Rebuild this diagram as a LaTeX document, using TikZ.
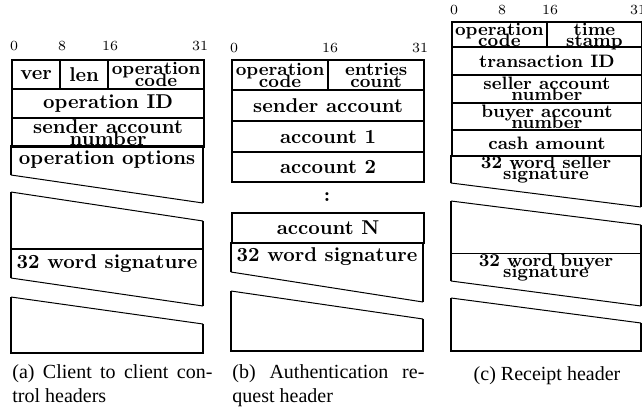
\documentclass[tikz,border=0pt]{standalone}
\usepackage{fontspec}
\newfontfamily\capfont{Liberation Serif}

% two centred lines set very close together, depth dropped
\newcommand{\stackfield}[3][5.8pt]{\raisebox{0pt}[\height][0pt]{\vbox{\baselineskip=#1\lineskiplimit=-20pt\lineskip=0pt
    \halign{\hfil##\hfil\cr#2\cr#3\cr}}}}

\tikzset{
  field/.style={draw, line width=1.1pt, inner sep=0pt, anchor=north west, font=\bfseries},
  cfield/.style={field, line width=0.9pt, font=\small\bfseries},
  edge/.style={line width=1.1pt},
  cedge/.style={line width=0.9pt},
  brk/.style={line width=0.5pt},
  bitnum/.style={font=\scriptsize, inner sep=0pt},
  capt/.style={anchor=north west, inner sep=0pt, align=left, font=\capfont},
}

\begin{document}
\begin{tikzpicture}[x=0.5pt, y=-0.5pt]
    \useasboundingbox (0,0) rectangle (642,414);

    % (a) client to client
    \foreach \b/\x in {0/14,8/62,16/110,31/200}
        \node[bitnum] (a\b) at (\x,46) {\b};
    \node[field, minimum width=24pt, minimum height=14.5pt] (ver) at (11,59) {ver};
    \node[field, minimum width=24pt, minimum height=14.5pt] (len) at (59,59) {len};
    \node[field, font=\small\bfseries, minimum width=48pt, minimum height=14.5pt] (opcodeA) at (107,59) {\stackfield[6pt]{operation}{code}};
    \node[field, minimum width=96pt, minimum height=14.5pt] (opid) at (11,88) {operation ID};
    \node[field, minimum width=96pt, minimum height=14.5pt] (senderA) at (11,117) {\stackfield{sender account}{number}};
    \node[font=\bfseries] (options) at (107,160) {operation options};
    \draw[edge] (11,175) -- (11,146) -- (203,146) -- (203,203);
    \draw[brk] (11,175) -- (203,203);
    \draw[brk] (11,192) -- (203,221);
    \draw[edge] (11,192) -- (11,278);
    \draw[edge] (203,221) -- (203,306);
    \draw[edge] (11,249) -- (203,249);
    \node[font=\bfseries] (sigA) at (107,264) {32 word signature};
    \draw[brk] (11,278) -- (203,306);
    \draw[brk] (11,297) -- (203,324);
    \draw[edge] (11,297) -- (11,353) -- (203,353) -- (203,324);

    % (b) authentication request
    \foreach \b/\x in {0/234,16/330,31/420}
        \node[bitnum] (b\b) at (\x,48) {\b};
    \node[field, font=\small\bfseries, minimum width=48pt, minimum height=15pt] (opcodeB) at (231,59) {\stackfield[6pt]{operation}{code}};
    \node[field, font=\small\bfseries, minimum width=48pt, minimum height=15pt] (entries) at (327,59) {\stackfield[6pt]{entries}{count}};
    \node[field, minimum width=96pt, minimum height=15.5pt] (senderB) at (231,89) {sender account};
    \node[field, minimum width=96pt, minimum height=15.5pt] (acc1) at (231,120) {account 1};
    \node[field, minimum width=96pt, minimum height=15pt] (acc2) at (231,151) {account 2};
    \node[font=\bfseries] (dots) at (327,197) {:};
    \node[field, minimum width=96pt, minimum height=15pt] (accN) at (231,212) {account N};
    \node[font=\bfseries] (sigB) at (327,257) {32 word signature};
    \draw[edge] (231,272) -- (231,242);
    \draw[edge] (423,242) -- (423,302);
    \draw[brk] (231,272) -- (423,302);
    \draw[brk] (231,291) -- (423,319);
    \draw[edge] (231,291) -- (231,351) -- (423,351) -- (423,319);

    % (c) receipt
    \foreach \b/\x in {0/454,8/502,16/550,31/638}
        \node[bitnum] (c\b) at (\x,10) {\b};
    \node[cfield, minimum width=47.5pt, minimum height=12.5pt] (opcodeC) at (451,21) {\stackfield[5.5pt]{operation}{code}};
    \node[cfield, minimum width=47.5pt, minimum height=12.5pt] (stamp) at (546,21) {\stackfield[5.5pt]{time}{stamp}};
    \node[cfield, minimum width=95pt, minimum height=14pt] (trans) at (451,46) {transaction ID};
    \node[cfield, minimum width=95pt, minimum height=14pt] (seller) at (451,74) {\stackfield[5.5pt]{seller account}{number}};
    \node[cfield, minimum width=95pt, minimum height=13.5pt] (buyer) at (451,102) {\stackfield[5.5pt]{buyer account}{number}};
    \node[cfield, minimum width=95pt, minimum height=13pt] (cash) at (451,129) {cash amount};
    \node[font=\small\bfseries, inner sep=0pt] (sigS) at (546,168) {\stackfield[5.5pt]{32 word seller}{signature}};
    \draw[cedge] (451,183) -- (451,155);
    \draw[cedge] (641,155) -- (641,207);
    \draw[brk] (451,183) -- (641,207);
    \draw[brk] (451,201) -- (641,225);
    \draw[cedge] (451,201) -- (451,281);
    \draw[cedge] (641,225) -- (641,306);
    \draw[brk] (451,253) -- (641,253);
    \node[font=\small\bfseries, inner sep=0pt] (sigBu) at (546,266) {\stackfield[5.5pt]{32 word buyer}{signature}};
    \draw[brk] (451,281) -- (641,306);
    \draw[brk] (451,298) -- (641,323);
    \draw[cedge] (451,298) -- (451,351) -- (641,351) -- (641,323);

    % captions
    \node[capt] (capA) at (12,364) {\makebox[100pt][s]{(a) Client to client con-}\\trol headers};
    \node[capt] (capB) at (232,364) {\makebox[96pt][s]{(b) Authentication re-}\\quest header};
    \node[capt, anchor=north] (capC) at (547,366) {(c) Receipt header};
\end{tikzpicture}
\end{document}
